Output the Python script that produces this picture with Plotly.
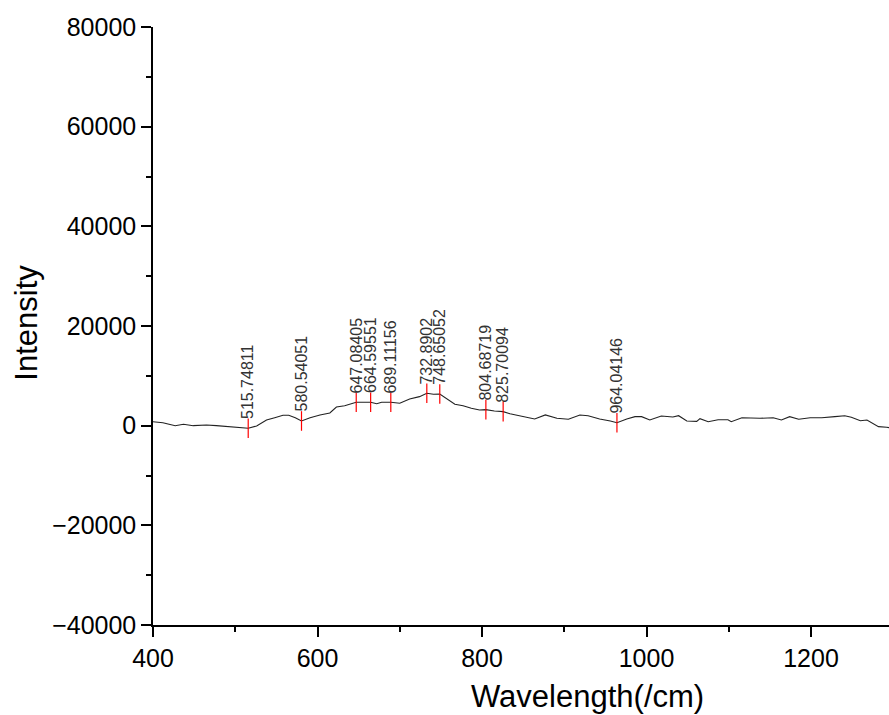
import plotly.graph_objects as go

# Raman spectrum (wavelength in /cm, intensity in counts)
wavelength = [400, 412, 427, 437, 449, 465, 477, 494, 506, 515.74811, 526, 538, 548,
              558, 565, 573, 580.54051, 591, 603, 615, 623, 633, 647.08405, 664.59551,
              672, 678, 689.11156, 700, 712, 724, 732.8902, 741, 748.65052, 759, 767,
              777, 787, 797, 804.68719, 815, 825.70094, 834, 850, 864, 877, 891, 905,
              919, 929, 943, 956, 964.04146, 976, 986, 994, 1004, 1018, 1032, 1039,
              1049, 1061, 1065, 1075, 1087, 1099, 1103, 1116, 1126, 1138, 1154, 1164,
              1174, 1185, 1199, 1213, 1229, 1241, 1249, 1260, 1268, 1282, 1292, 1295]
intensity = [800, 600, 0, 280, 0, 140, 0, -260, -460, -530, -60, 1140, 1600,
             2080, 2080, 1600, 940, 1600, 2150, 2550, 3750, 4010, 4690, 4690,
             4410, 4690, 4690, 4490, 5350, 5820, 6500, 6300, 6360, 5150, 4290,
             4010, 3490, 3150, 3210, 2950, 2810, 2400, 1810, 1340, 2150, 1480, 1280,
             2150, 2000, 1340, 940, 600, 1340, 1810, 1810, 1140, 1950, 1750, 2000,
             940, 870, 1400, 800, 1200, 1200, 800, 1600, 1480, 1480, 1600, 1140,
             1810, 1280, 1600, 1600, 1810, 2000, 1680, 1000, 1140, -200, -320, -400]

# Picked peaks
peak_pos = [515.74811, 580.54051, 647.08405, 664.59551, 689.11156,
            732.8902, 748.65052, 804.68719, 825.70094, 964.04146]
peak_int = [-530, 940, 4690, 4690, 4690, 6500, 6360, 3210, 2810, 600]
peak_labels = ["515.74811", "580.54051", "647.08405", "664.59551", "689.11156",
               "732.8902", "748.65052", "804.68719", "825.70094", "964.04146"]

FONT = "Arial, Liberation Sans, sans-serif"

fig = go.Figure()
fig.add_trace(go.Scatter(
    x=wavelength, y=intensity, mode="lines",
    line=dict(color="#222222", width=1.1), hoverinfo="skip", showlegend=False))
fig.add_trace(go.Scatter(
    x=peak_pos, y=peak_int, mode="markers",
    marker=dict(symbol="line-ns", size=14, line=dict(color="#ff0000", width=1.2)),
    showlegend=False))

for xp, yp, lab in zip(peak_pos, peak_int, peak_labels):
    fig.add_annotation(x=xp, y=yp, text=lab, showarrow=False, textangle=-90,
                       xanchor="center", yanchor="bottom", yshift=7,
                       font=dict(family=FONT, size=16, color="#333333"))

fig.add_annotation(xref="paper", yref="paper", x=0.591, y=-0.12,
                   text="Wavelength(/cm)", showarrow=False,
                   xanchor="center", yanchor="middle",
                   font=dict(family=FONT, size=31, color="#000000"))
fig.add_annotation(xref="paper", yref="paper", x=-0.173, y=0.505,
                   text="Intensity", showarrow=False, textangle=-90,
                   xanchor="center", yanchor="middle",
                   font=dict(family=FONT, size=31, color="#000000"))

axis_common = dict(
    showgrid=False, zeroline=False, showline=True, linecolor="#000000",
    linewidth=1.5, ticks="outside", ticklen=10, tickwidth=1.5, tickcolor="#000000",
    tickfont=dict(family=FONT, size=25, color="#000000"),
)

fig.update_xaxes(range=[400, 1294.8], dtick=200, tick0=400,
                 minor=dict(ticks="outside", ticklen=5, tickwidth=1.5,
                            tickcolor="#000000", dtick=100, showgrid=False),
                 **axis_common)
fig.update_yaxes(range=[-40000, 80000], dtick=20000, tick0=0, tickformat="d",
                 minor=dict(ticks="outside", ticklen=5, tickwidth=1.5,
                            tickcolor="#000000", dtick=10000, showgrid=False),
                 **axis_common)

fig.update_layout(
    width=889, height=715,
    margin=dict(l=153, r=0, t=27, b=90),
    paper_bgcolor="#ffffff", plot_bgcolor="#ffffff",
    font=dict(family=FONT),
    showlegend=False,
)

fig.write_html("out.html")
